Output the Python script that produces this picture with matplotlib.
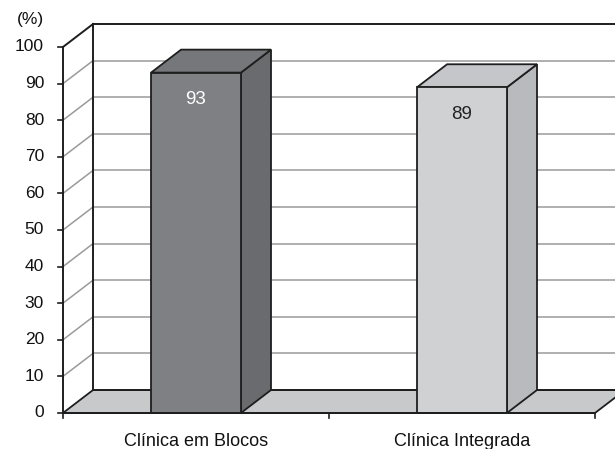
import matplotlib
matplotlib.use("Agg")
import matplotlib.pyplot as plt
from matplotlib.patches import Polygon

plt.rcParams['font.family'] = ['Liberation Sans', 'DejaVu Sans']

# Data
categories = ["Clínica em Blocos", "Clínica Integrada"]
values = [93, 89]
value_labels = ["93", "89"]
y_ticks = [0, 10, 20, 30, 40, 50, 60, 70, 80, 90, 100]
y_unit_label = "(%)"

# Styling
front_colors = ["#7f8084", "#d0d1d3"]
side_colors = ["#6a6b6f", "#b9babd"]
top_colors = ["#76777a", "#c5c6c9"]
label_colors = ["white", "#222222"]
floor_color = "#c8c9cb"
grid_color = "#9a9a9a"
edge = "#1e1e1e"

# 3D-look geometry (data units): depth offset of the back wall
DX, DY = 0.113, 6.28
bar_w = 0.338
ymax = 100

fig = plt.figure(figsize=(6.15, 4.49), dpi=100)
ax = fig.add_axes([0, 0, 1, 1])
ax.set_xlim(-0.2368, 2.0752)
ax.set_ylim(-9.84, 112.84)
ax.axis("off")

n = len(categories)

# Gridlines: diagonal on the left wall, horizontal across the back wall
for t in y_ticks[1:-1]:
    ax.plot([0, DX], [t, t + DY], color=grid_color, lw=1.1, zorder=1,
            solid_capstyle="butt")
    ax.plot([DX, n + DX + 0.2], [t + DY, t + DY], color=grid_color, lw=1.1,
            zorder=1, solid_capstyle="butt")

# Back wall frame
ax.plot([DX, DX], [DY, ymax + DY], color=edge, lw=1.4, zorder=2)
ax.plot([DX, n + DX + 0.2], [ymax + DY, ymax + DY], color=edge, lw=1.4, zorder=2)
ax.plot([0, DX], [ymax, ymax + DY], color=edge, lw=1.4, zorder=2)

# Floor
floor = Polygon([(0, 0), (n, 0), (n + DX, DY), (DX, DY)], closed=True,
                facecolor=floor_color, edgecolor=edge, lw=1.3, zorder=3)
ax.add_patch(floor)
ax.plot([DX, n + DX + 0.2], [DY, DY], color=edge, lw=1.3, zorder=3)

# Front value axis
ax.plot([0, 0], [0, ymax], color=edge, lw=1.4, zorder=6)
for t in y_ticks:
    ax.plot([-0.019, 0], [t, t], color=edge, lw=1.2, zorder=6)
    ax.text(-0.071, t, str(t), ha="right", va="center", fontsize=12.5,
            color="#111111")
ax.text(-0.071, 107.4, y_unit_label, ha="right", va="center", fontsize=12.5,
        color="#111111")

# Category axis
ax.plot([0, n], [0, 0], color=edge, lw=1.4, zorder=6)
for i in range(n + 1):
    ax.plot([i, i], [0, -1.5], color=edge, lw=1.2, zorder=6)
for i, c in enumerate(categories):
    ax.text(i + 0.5, -8.9, c, ha="center", va="baseline", fontsize=13,
            color="#111111")

# Bars as boxes: front, side and top faces
for i, v in enumerate(values):
    x0 = i + 0.5 - bar_w / 2
    x1 = i + 0.5 + bar_w / 2
    front = Polygon([(x0, 0), (x1, 0), (x1, v), (x0, v)], closed=True,
                    facecolor=front_colors[i], edgecolor=edge, lw=1.3, zorder=5)
    side = Polygon([(x1, 0), (x1 + DX, DY), (x1 + DX, v + DY), (x1, v)],
                   closed=True, facecolor=side_colors[i], edgecolor=edge,
                   lw=1.3, zorder=5)
    top = Polygon([(x0, v), (x1, v), (x1 + DX, v + DY), (x0 + DX, v + DY)],
                  closed=True, facecolor=top_colors[i], edgecolor=edge,
                  lw=1.3, zorder=5)
    for p in (side, top, front):
        ax.add_patch(p)
    ax.text(i + 0.5, v - 7.4, value_labels[i], ha="center", va="center",
            fontsize=13.5, color=label_colors[i], zorder=7)

fig.savefig("out.png", dpi=100)
